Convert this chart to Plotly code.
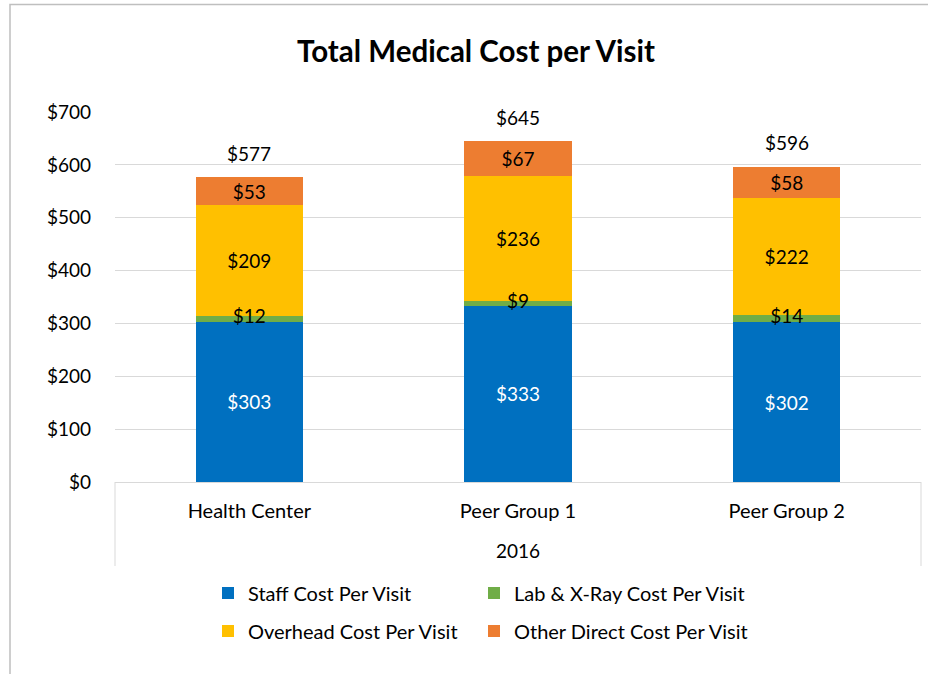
import plotly.graph_objects as go

categories = ["Health Center", "Peer Group 1", "Peer Group 2"]
group_label = "2016"
staff = [303, 333, 302]
lab = [12, 9, 14]
overhead = [209, 236, 222]
other = [53, 67, 58]
totals = [577, 645, 596]
y_ticks = [0, 100, 200, 300, 400, 500, 600, 700]

FONT = "Lato"
NUM = 19
TXT = 20

series = [
    ("Staff Cost Per Visit", staff, "#0070C0", "white", "legend", True),
    ("Lab & X-Ray Cost Per Visit", lab, "#70AD47", "black", "legend2", False),
    ("Overhead Cost Per Visit", overhead, "#FFC000", "black", "legend3", True),
    ("Other Direct Cost Per Visit", other, "#ED7D31", "black", "legend4", True),
]

fig = go.Figure()
for name, vals, color, tcolor, leg, inside in series:
    fig.add_trace(go.Bar(
        x=categories, y=vals, name=name, marker=dict(color=color, line=dict(width=0)),
        text=[f"${v}" for v in vals] if inside else None,
        textposition="inside" if inside else "none",
        insidetextanchor="middle", constraintext="none", textangle=0,
        insidetextfont=dict(family=FONT, size=NUM, color=tcolor),
        legend=leg, hoverinfo="skip",
    ))

# labels for the thin Lab & X-Ray segments, drawn above all bars
fig.add_trace(go.Scatter(
    x=categories, y=[s + l / 2 for s, l in zip(staff, lab)],
    text=[f"${v}" for v in lab], mode="text", textposition="middle center",
    textfont=dict(family=FONT, size=NUM, color="black"),
    showlegend=False, hoverinfo="skip", cliponaxis=False,
))

for c, t in zip(categories, totals):
    fig.add_annotation(x=c, y=t, text=f"${t}", showarrow=False,
                       yanchor="middle", yshift=24,
                       font=dict(family=FONT, size=NUM, color="black"))

# chart border: only the left and top edges are visible in the window
bx0 = (10 - 115) / 806
by1 = (482 - 4.5) / 370
fig.add_shape(type="path", xref="paper", yref="paper",
              path=f"M {bx0},-0.6 L {bx0},{by1} L 1.05,{by1}",
              line=dict(color="#bfbfbf", width=1.5))
# category axis box sides
for xp in (0, 1):
    fig.add_shape(type="line", xref="paper", yref="paper", x0=xp, x1=xp,
                  y0=0, y1=(482 - 566) / 370, line=dict(color="#d9d9d9", width=1))

def legend_box(xpix, ypix):
    return dict(orientation="h", x=(xpix - 115) / 806, xanchor="left",
                y=(482 - ypix) / 370, yanchor="middle",
                font=dict(family=FONT, size=TXT, color="black"),
                bgcolor="rgba(0,0,0,0)")

fig.update_layout(
    width=928, height=674,
    margin=dict(l=115, r=7, t=112, b=192, autoexpand=False),
    paper_bgcolor="white", plot_bgcolor="white",
    barmode="stack", bargap=0.6,
    font=dict(family=FONT, size=TXT, color="black"),
    title=dict(text="<b>Total Medical Cost per Visit</b>", x=476 / 928, xanchor="center",
               y=1 - 52 / 674, yanchor="middle", font=dict(family=FONT, size=29.5, color="black")),
    legend=legend_box(208, 593),
    legend2=legend_box(474, 593),
    legend3=legend_box(208, 631),
    legend4=legend_box(474, 631),
    showlegend=True,
)
fig.update_xaxes(type="category", showgrid=False, ticks="", showline=True,
                 linecolor="#d9d9d9", linewidth=1, ticklabelstandoff=11,
                 tickfont=dict(family=FONT, size=TXT, color="black"),
                 title=dict(text=group_label, standoff=23,
                            font=dict(family=FONT, size=NUM, color="black")))
fig.update_yaxes(range=[0, 700], tickvals=y_ticks, ticktext=[f"${v}" for v in y_ticks],
                 showgrid=True, gridcolor="#d9d9d9", gridwidth=1, zeroline=False,
                 ticks="", ticklabelstandoff=23,
                 tickfont=dict(family=FONT, size=NUM, color="black"))

fig.write_html(
    "out.html", config={"displayModeBar": False},
    post_script=("document.body.style.margin='0';"
                 "document.body.style.overflow='hidden';"
                 "document.documentElement.style.overflow='hidden';"))
